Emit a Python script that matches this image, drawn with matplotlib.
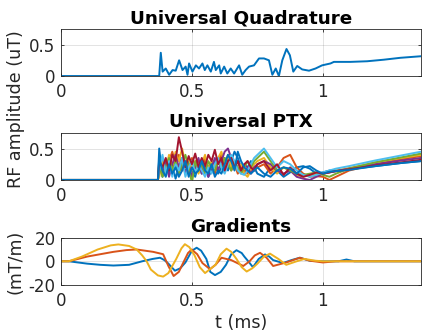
import matplotlib
matplotlib.use("Agg")
import matplotlib.pyplot as plt

# --- Universal Quadrature RF amplitude (uT)
quad_t = [0, 0.375, 0.381, 0.388, 0.400, 0.413, 0.426, 0.438, 0.451, 0.464, 0.476,
          0.483, 0.489, 0.502, 0.515, 0.527, 0.540, 0.549, 0.559, 0.572, 0.584,
          0.591, 0.604, 0.610, 0.623, 0.635, 0.648, 0.661, 0.680, 0.692, 0.705,
          0.718, 0.737, 0.756, 0.775, 0.794, 0.807, 0.820, 0.832, 0.845, 0.861,
          0.874, 0.887, 0.902, 0.921, 0.947, 0.972, 0.997, 1.029, 1.042, 1.105,
          1.169, 1.233, 1.296, 1.375]
quad_rf = [0, 0, 0.37, 0.07, 0.12, 0.02, 0.095, 0.085, 0.25, 0.095, 0.15,
           0.02, 0.20, 0.07, 0.17, 0.12, 0.20, 0.095, 0.17, 0.07, 0.225,
           0.095, 0.17, 0.04, 0.15, 0.04, 0.12, 0.04, 0.17, 0.02, 0.095,
           0.15, 0.17, 0.28, 0.28, 0.25, 0.02, 0.12, 0.0, 0.25, 0.43,
           0.33, 0.07, 0.16, 0.105, 0.085, 0.12, 0.17, 0.20, 0.225, 0.225,
           0.235, 0.26, 0.29, 0.315]

# --- Universal PTX, 8 channels (uT)
ptx_t = [0, 0.37, 0.375, 0.3875, 0.40, 0.4125, 0.425, 0.4375, 0.45, 0.4625, 0.475,
         0.4875, 0.50, 0.5125, 0.525, 0.5375, 0.55, 0.5625, 0.575, 0.5875, 0.60,
         0.6125, 0.625, 0.6375, 0.65, 0.6625, 0.675, 0.6875, 0.70, 0.7125, 0.725,
         0.7375, 0.75, 0.775, 0.80, 0.825, 0.85, 0.875, 0.90, 0.925, 0.95,
         0.975, 1.0, 1.025, 1.05, 1.1, 1.2, 1.3, 1.375]
ch1 = [0, 0, 0.50, 0.05, 0.30, 0.10, 0.25, 0.02, 0.20, 0.35, 0.10,
       0.30, 0.15, 0.05, 0.25, 0.10, 0.20, 0.05, 0.15, 0.30, 0.10,
       0.20, 0.35, 0.15, 0.30, 0.45, 0.35, 0.20, 0.10, 0.20, 0.30,
       0.20, 0.10, 0.05, 0.20, 0.15, 0.05, 0.12, 0.20, 0.22, 0.18,
       0.10, 0.12, 0.15, 0.15, 0.17, 0.22, 0.27, 0.30]
ch2 = [0, 0, 0.10, 0.35, 0.20, 0.30, 0.45, 0.25, 0.40, 0.15, 0.30,
       0.10, 0.35, 0.20, 0.30, 0.15, 0.35, 0.20, 0.25, 0.10, 0.30,
       0.40, 0.20, 0.35, 0.15, 0.25, 0.10, 0.20, 0.15, 0.10, 0.20,
       0.15, 0.20, 0.25, 0.10, 0.20, 0.35, 0.40, 0.20, 0.10, 0.05,
       0.06, 0.05, 0.0, 0.05, 0.15, 0.25, 0.33, 0.38]
ch3 = [0, 0, 0.05, 0.30, 0.15, 0.40, 0.20, 0.45, 0.30, 0.50, 0.25,
       0.35, 0.15, 0.30, 0.10, 0.25, 0.40, 0.15, 0.30, 0.20, 0.35,
       0.45, 0.25, 0.40, 0.20, 0.30, 0.15, 0.25, 0.10, 0.05, 0.15,
       0.25, 0.30, 0.35, 0.20, 0.10, 0.20, 0.15, 0.08, 0.05, 0.08,
       0.10, 0.10, 0.12, 0.15, 0.19, 0.28, 0.35, 0.40]
ch4 = [0, 0, 0.20, 0.10, 0.30, 0.05, 0.25, 0.40, 0.20, 0.30, 0.10,
       0.25, 0.05, 0.20, 0.35, 0.10, 0.25, 0.05, 0.20, 0.35, 0.15,
       0.30, 0.45, 0.50, 0.35, 0.20, 0.30, 0.15, 0.25, 0.20, 0.10,
       0.20, 0.25, 0.30, 0.25, 0.15, 0.10, 0.15, 0.05, 0.02, 0.0,
       0.05, 0.10, 0.12, 0.14, 0.18, 0.25, 0.31, 0.35]
ch5 = [0, 0, 0.25, 0.05, 0.20, 0.35, 0.15, 0.30, 0.10, 0.25, 0.40,
       0.20, -0.05, 0.30, 0.15, 0.25, 0.10, 0.30, 0.20, 0.15, 0.30,
       0.20, 0.35, 0.25, 0.15, 0.30, 0.20, 0.10, 0.20, 0.30, 0.20,
       0.30, 0.35, 0.45, 0.30, 0.15, 0.20, 0.15, 0.10, 0.08, 0.10,
       0.12, 0.08, 0.05, 0.10, 0.18, 0.28, 0.36, 0.42]
ch6 = [0, 0, 0.15, 0.40, 0.10, 0.30, 0.05, 0.25, 0.15, 0.35, 0.05,
       0.20, 0.30, 0.10, 0.25, 0.15, 0.05, 0.20, 0.10, 0.25, 0.35,
       0.20, 0.10, 0.25, 0.40, 0.30, 0.15, 0.10, 0.08, 0.15, 0.25,
       0.35, 0.40, 0.50, 0.35, 0.20, 0.30, 0.25, 0.15, 0.08, 0.05,
       0.08, 0.12, 0.15, 0.18, 0.22, 0.31, 0.39, 0.45]
ch7 = [0, 0, 0.30, 0.20, 0.35, 0.15, 0.40, 0.30, 0.68, 0.45, 0.20,
       0.38, 0.25, 0.42, 0.20, 0.35, 0.22, 0.40, 0.30, 0.48, 0.25,
       0.35, 0.15, 0.30, 0.35, 0.20, 0.30, 0.15, 0.25, 0.30, 0.20,
       0.15, 0.25, 0.30, 0.15, 0.25, 0.08, 0.20, 0.10, 0.05, 0.08,
       0.12, 0.10, 0.12, 0.14, 0.17, 0.23, 0.28, 0.32]
ch8 = [0, 0, 0.35, 0.15, 0.05, 0.25, 0.10, 0.20, 0.05, 0.15, 0.30,
       0.05, 0.20, 0.10, 0.15, 0.30, 0.15, 0.10, 0.25, 0.05, 0.15,
       0.10, 0.25, 0.40, 0.30, 0.15, 0.45, 0.30, 0.20, 0.15, 0.10,
       0.15, 0.20, 0.10, 0.05, 0.15, 0.20, 0.18, 0.10, 0.20, 0.22,
       0.15, 0.10, 0.13, 0.14, 0.16, 0.22, 0.27, 0.30]
ptx_channels = [ch1, ch2, ch3, ch4, ch5, ch6, ch7, ch8]

# --- Gradients (mT/m)
gx_t = [0, 0.03, 0.1, 0.15, 0.2, 0.26, 0.31, 0.35, 0.378, 0.395, 0.41, 0.435,
        0.455, 0.475, 0.5, 0.518, 0.535, 0.555, 0.57, 0.588, 0.61, 0.63, 0.65,
        0.67, 0.69, 0.70, 0.715, 0.733, 0.755, 0.779, 0.795, 0.81, 0.848, 0.88,
        0.912, 0.95, 1.0, 1.06, 1.09, 1.12, 1.375]
gx = [0, 0, -2, -3, -3.6, -3, 0, 2, 3, 1, -2, -8,
      -6, -1, 9, 11.5, 9, 2, -9, -11.7, -9, -3, 6,
      9.4, 7, 4, 0, -5, 2, 5.8, 4, 1, -1.5, 1,
      3, 0.5, 0, 0, 1.5, 0, 0]
gy_t = [0, 0.03, 0.1, 0.2, 0.25, 0.289, 0.352, 0.39, 0.41, 0.43, 0.45, 0.465,
        0.485, 0.499, 0.52, 0.54, 0.569, 0.59, 0.613, 0.65, 0.696, 0.72, 0.74,
        0.76, 0.785, 0.81, 0.86, 0.912, 0.95, 1.0, 1.05, 1.1, 1.375]
gy = [0, 0, 4, 8, 9.5, 10, 8, 6, -4, -12.5, -9, -2,
      7, 10, 6, -1.5, -6.7, -3, 3, 1, -4, 0, 5,
      7.2, 3, -4, -1, 3, 0.5, -1, 0, 0, 0]
gz_t = [0, 0.03, 0.08, 0.14, 0.19, 0.219, 0.26, 0.289, 0.31, 0.327, 0.343, 0.37,
        0.39, 0.41, 0.44, 0.46, 0.473, 0.49, 0.51, 0.53, 0.55, 0.59, 0.61,
        0.632, 0.65, 0.67, 0.69, 0.709, 0.73, 0.75, 0.775, 0.798, 0.83, 0.86,
        0.9, 0.93, 0.97, 1.0, 1.375]
gz = [0, 0, 4, 10, 13.5, 14.3, 13, 10, 5, 0, -7, -12,
      -13, -10, 2, 11, 14.5, 12, 5, -5, -10, -3, 6,
      10.7, 8, 2, -5, -8.7, -6, -2, 4, 6.5, 2, -3,
      0, 2, 0.5, 0, 0]

matlab_colors = ['#0072BD', '#D95319', '#EDB120', '#7E2F8E',
                 '#77AC30', '#4DBEEE', '#A2142F', '#0072BD']

plt.rcParams['font.family'] = 'DejaVu Sans'
plt.rcParams['font.size'] = 12
plt.rcParams['xtick.direction'] = 'in'
plt.rcParams['ytick.direction'] = 'in'

fig = plt.figure(figsize=(4.37, 3.32), dpi=100)
ax1 = fig.add_axes([0.1396, 0.771, 0.824, 0.142])
ax2 = fig.add_axes([0.1396, 0.458, 0.824, 0.142])
ax3 = fig.add_axes([0.1396, 0.142, 0.824, 0.142])


def style(ax):
    ax.set_xlim(0, 1.375)
    ax.set_xticks([0, 0.5, 1])
    ax.set_xticklabels(['0', '0.5', '1'])
    ax.grid(True, color='#262626', alpha=0.15, linewidth=0.6)
    ax.tick_params(top=True, right=True, length=2.5, width=0.6,
                   colors='#262626', labelsize=12)
    ax.tick_params(axis='x', pad=5)
    ax.tick_params(axis='y', pad=4)
    for s in ax.spines.values():
        s.set_color('#262626')
        s.set_linewidth(0.6)


ax1.plot(quad_t, quad_rf, color=matlab_colors[0], linewidth=1.4)
ax1.set_ylim(0, 0.75)
ax1.set_yticks([0, 0.5])
ax1.set_yticklabels(['0', '0.5'])
ax1.set_title('Universal Quadrature', fontweight='bold', fontsize=13.2, pad=4)
style(ax1)

for ch, c in zip(ptx_channels, matlab_colors):
    ax2.plot(ptx_t, ch, color=c, linewidth=1.4)
ax2.set_ylim(0, 0.75)
ax2.set_yticks([0, 0.5])
ax2.set_yticklabels(['0', '0.5'])
ax2.set_title('Universal PTX', fontweight='bold', fontsize=13.2, pad=4)
style(ax2)

ax3.plot(gx_t, gx, color=matlab_colors[0], linewidth=1.4)
ax3.plot(gy_t, gy, color=matlab_colors[1], linewidth=1.4)
ax3.plot(gz_t, gz, color=matlab_colors[2], linewidth=1.4)
ax3.set_ylim(-20, 20)
ax3.set_yticks([-20, 0, 20])
ax3.set_yticklabels(['-20', '0', '20'])
ax3.set_title('Gradients', fontweight='bold', fontsize=13.2, pad=4)
ax3.set_xlabel('t (ms)', fontsize=12.6, color='#262626', labelpad=3)
style(ax3)

fig.text(0.036, 0.67, 'RF amplitude (uT)', rotation=90, ha='center',
         va='center', fontsize=12.6, color='#262626')
fig.text(0.036, 0.21, '(mT/m)', rotation=90, ha='center', va='center',
         fontsize=12.6, color='#262626')

fig.savefig('out.png', dpi=100)
